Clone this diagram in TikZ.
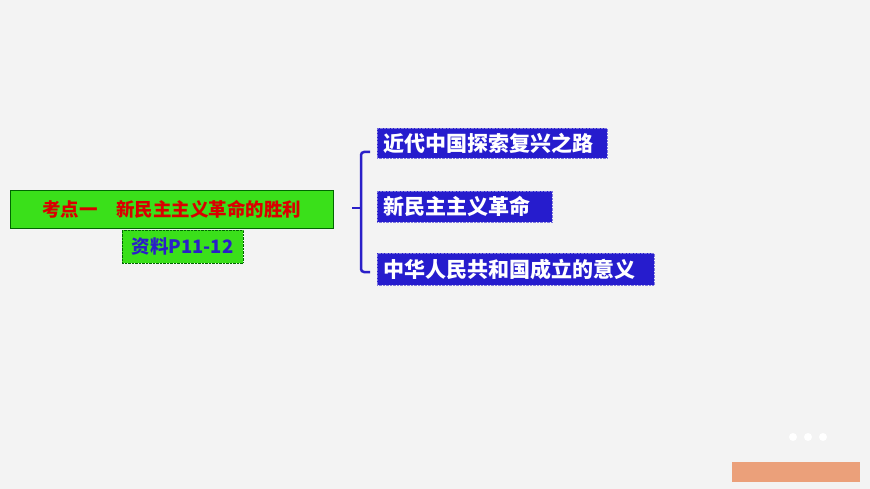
\documentclass[tikz,border=0pt]{standalone}
\usepackage{fontspec}
\newfontfamily\cjk{Noto Sans CJK SC}
\usetikzlibrary{positioning}
\definecolor{bgc}{HTML}{F3F3F3}
\definecolor{brc}{HTML}{2A1FC8}
\definecolor{grc}{HTML}{3AE01A}
\definecolor{orc}{HTML}{EBA07A}
\tikzset{
  kbox/.style = {fill=grc, draw=green!40!black, inner sep=0pt, font=\cjk\fontsize{18.5}{18.5}\selectfont\bfseries},
  topic/.style = {fill=brc!90!blue, text=white, anchor=west, inner xsep=6pt, inner ysep=0pt, align=left, font=\cjk\fontsize{21}{21}\selectfont\bfseries, draw=brc!60!white, densely dotted},
}
\begin{document}
\begin{tikzpicture}[x=1pt, y=-1pt]
\fill[bgc] (0,0) rectangle (870,489);
\useasboundingbox (0,0) rectangle (870,489);

\node[kbox, minimum width=323pt, minimum height=38pt, text=red!85!black] (kd) at (171.5,209) {考点一\quad 新民主主义革命的胜利};
\node[kbox, minimum width=121pt, minimum height=33pt, text=brc, densely dotted] (zl) at (182.5,246.5) {资料P11-12};

\node[topic, text width=218pt, minimum height=30pt] (t1) at (377,143) {近代中国探索复兴之路};
\node[topic, text width=163pt, minimum height=31pt] (t2) at (377,206.5) {新民主主义革命};
\node[topic, text width=265pt, minimum height=32pt] (t3) at (377,269) {中华人民共和国成立的意义};

% brace
\draw[brc, line width=2.5pt, rounded corners=3pt] (370,152) -- (361,152) -- (361,272) -- (370,272);
\draw[brc, line width=2.5pt] (361,208) -- (352,208);

\foreach \x in {793,808,823}
   \fill[white] (\x,437) circle (4);
\fill[orc] (732,462) rectangle (860,482);
\end{tikzpicture}
\end{document}
